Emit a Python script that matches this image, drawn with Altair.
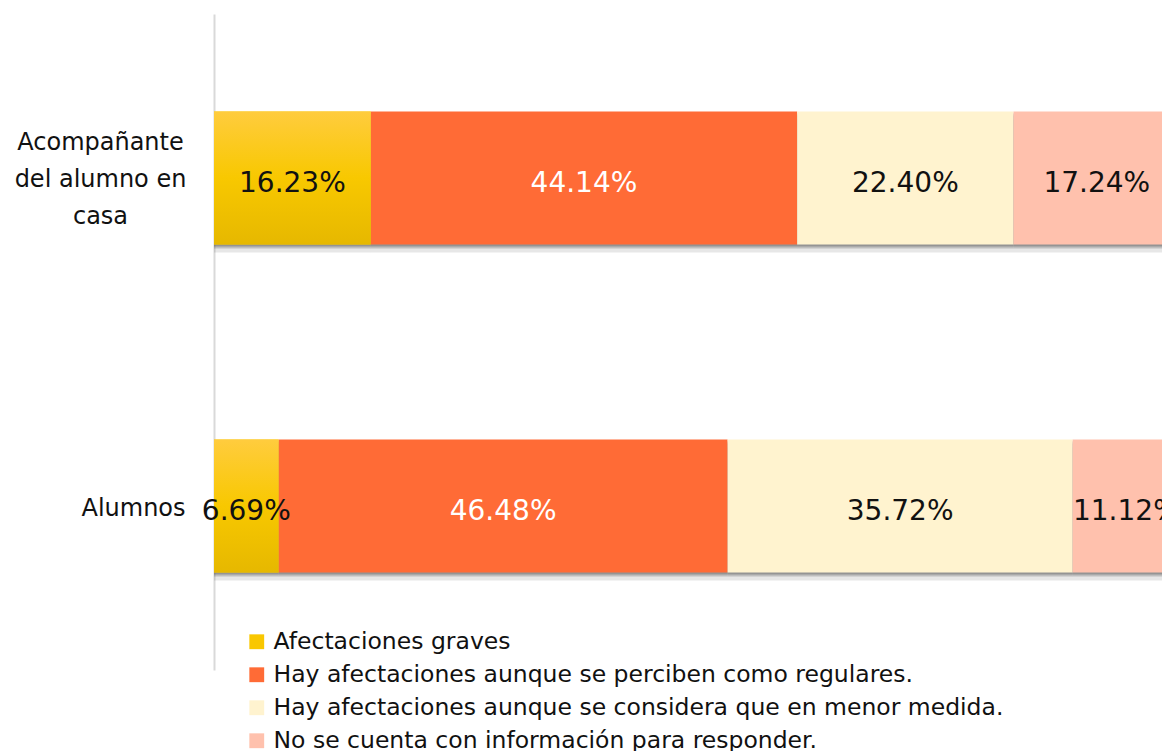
import altair as alt
import pandas as pd

categories = ["Acompañante|del alumno en|casa", "Alumnos"]
series = [
    "Afectaciones graves",
    "Hay afectaciones aunque se perciben como regulares.",
    "Hay afectaciones aunque se considera que en menor medida.",
    "No se cuenta con información para responder.",
]
acompanante = [16.23, 44.14, 22.40, 17.24]
alumnos = [6.69, 46.48, 35.72, 11.12]
colors = ["#F9C700", "#FF6B36", "#FFF3CF", "#FFC1AD"]

rows = []
for cat, vals in zip(categories, [acompanante, alumnos]):
    for i, (s, v) in enumerate(zip(series, vals)):
        rows.append({"cat": cat, "serie": s, "order": i, "value": v,
                     "label": f"{v:.2f}%"})
df = pd.DataFrame(rows)

FONT = "DejaVu Sans"

base = alt.Chart(df).transform_stack(
    stack="value", groupby=["cat"], as_=["x0", "x1"],
    sort=[alt.SortField("order", order="ascending")]
).transform_calculate(mid="(datum.x0 + datum.x1) / 2")

xscale = alt.Scale(domain=[0, 98.14], nice=False, zero=True)
yscale = alt.Scale(domain=categories, paddingInner=0, paddingOuter=0)

yenc = alt.Y("cat:N", scale=yscale, title=None, sort=categories,
             axis=alt.Axis(
                 ticks=False, tickSize=0, grid=False,
                 domainColor="#D9D9D9", domainWidth=2,
                 labelFont=FONT, labelFontSize=24, labelColor="#111111",
                 labelAlign="center", labelBaseline="middle",
                 labelLineHeight=37, labelLimit=400,
                 labelExpr="split(datum.label, '|')",
                 labelPadding={"condition": {"test": "datum.value == 'Alumnos'", "value": 81},
                               "value": 114},
                 labelOffset={"condition": {"test": "datum.value == 'Alumnos'", "value": 3},
                              "value": -35},
             ))
xenc = alt.X("x0:Q", scale=xscale, axis=None)

shadows = [
    base.mark_bar(size=133, color="#555555", opacity=op, yOffset=off, clip=True).encode(
        x=xenc, x2="x1:Q", y=yenc)
    for off, op in [(8, 0.14), (4, 0.28), (2, 0.4)]
]

bars = base.mark_bar(size=133, clip=True).encode(
    x=xenc, x2="x1:Q", y=yenc,
    color=alt.Color("serie:N", scale=alt.Scale(domain=series, range=colors), sort=series,
                    legend=alt.Legend(
                        title=None, orient="none", legendX=31, legendY=616,
                        symbolType="square", symbolSize=220, symbolStrokeWidth=0,
                        labelFont=FONT, labelFontSize=23.5, labelColor="#111111",
                        labelLimit=1000, rowPadding=8, padding=0, labelOffset=5,
                    )),
)

grad = base.transform_filter("datum.order == 0").mark_bar(
    size=133, clip=True,
    color=alt.Gradient(gradient="linear", x1=0, y1=0, x2=0, y2=1,
                       stops=[alt.GradientStop(color="#FFCC3E", offset=0),
                              alt.GradientStop(color="#F8C800", offset=0.5),
                              alt.GradientStop(color="#E6B800", offset=1)]),
).encode(x=xenc, x2="x1:Q", y=yenc)

text = base.mark_text(font=FONT, fontSize=28, baseline="middle", align="center",
                      dy=6, clip=False).encode(
    x=alt.X("mid:Q", scale=xscale, axis=None),
    y=yenc,
    text="label:N",
    color=alt.condition("datum.order == 1", alt.value("#FFFFFF"), alt.value("#111111")),
)

chart = alt.layer(*shadows, bars, grad, text).properties(
    width=948, height=656,
    autosize="none",
    padding={"left": 206, "top": 6, "right": 0, "bottom": 81},
).configure_view(stroke=None)

chart.save("out.html", embed_options={"renderer": "svg", "actions": False})
